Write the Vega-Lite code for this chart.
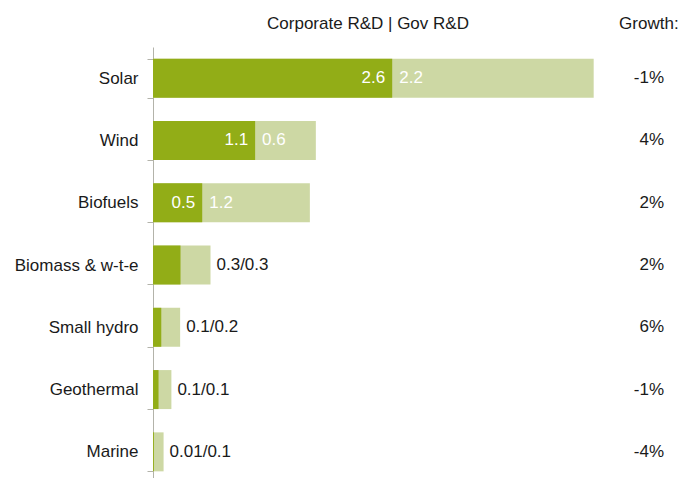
{
  "$schema": "https://vega.github.io/schema/vega-lite/v6.json",
  "autosize": {"type": "none"},
  "width": 529,
  "height": 436,
  "padding": {"left": 153, "top": 47, "right": 0, "bottom": 0},
  "background": "white",
  "config": {
    "font": "Liberation Sans",
    "view": {"stroke": null},
    "text": {"font": "Liberation Sans", "fontSize": 17}
  },
  "datasets": {
    "rd": [
      {"tech": "Solar", "corp": 2.6, "total": 4.79, "corpLabel": "2.6", "govLabel": "2.2", "combo": "", "inside": true, "growth": "-1%"},
      {"tech": "Wind", "corp": 1.11, "total": 1.77, "corpLabel": "1.1", "govLabel": "0.6", "combo": "", "inside": true, "growth": "4%"},
      {"tech": "Biofuels", "corp": 0.535, "total": 1.705, "corpLabel": "0.5", "govLabel": "1.2", "combo": "", "inside": true, "growth": "2%"},
      {"tech": "Biomass & w-t-e", "corp": 0.299, "total": 0.625, "corpLabel": "", "govLabel": "", "combo": "0.3/0.3", "inside": false, "growth": "2%"},
      {"tech": "Small hydro", "corp": 0.09, "total": 0.295, "corpLabel": "", "govLabel": "", "combo": "0.1/0.2", "inside": false, "growth": "6%"},
      {"tech": "Geothermal", "corp": 0.06, "total": 0.2, "corpLabel": "", "govLabel": "", "combo": "0.1/0.1", "inside": false, "growth": "-1%"},
      {"tech": "Marine", "corp": 0.01, "total": 0.115, "corpLabel": "", "govLabel": "", "combo": "0.01/0.1", "inside": false, "growth": "-4%"}
    ],
    "headers": [
      {"label": "Corporate R&D | Gov R&D", "pos": 2.337, "tech": "Solar"},
      {"label": "Growth:", "pos": 5.39, "tech": "Solar"}
    ]
  },
  "data": {"name": "rd"},
  "encoding": {
    "y": {
      "field": "tech",
      "type": "nominal",
      "sort": null,
      "scale": {"domain": ["Solar", "Wind", "Biofuels", "Biomass & w-t-e", "Small hydro", "Geothermal", "Marine"], "paddingInner": 0.374, "paddingOuter": 0.187},
      "axis": {
        "title": null,
        "tickBand": "extent",
        "tickSize": 6,
        "tickColor": "#b3b3aa",
        "domainColor": "#b3b3aa",
        "labelFontSize": 17,
        "labelColor": "#1a1a1a",
        "labelPadding": 9,
        "labelFont": "Liberation Sans",
        "grid": false
      }
    }
  },
  "layer": [
    {
      "mark": {"type": "bar", "color": "#cdd8a4"},
      "encoding": {
        "x": {"field": "total", "type": "quantitative", "scale": {"domain": [0, 5.75], "nice": false}, "axis": null}
      }
    },
    {
      "mark": {"type": "bar", "color": "#92ad17"},
      "encoding": {
        "x": {"field": "corp", "type": "quantitative"}
      }
    },
    {
      "mark": {"type": "text", "align": "right", "baseline": "middle", "dx": -7, "color": "white"},
      "encoding": {
        "x": {"field": "corp", "type": "quantitative"},
        "text": {"field": "corpLabel"}
      }
    },
    {
      "mark": {"type": "text", "align": "left", "baseline": "middle", "dx": 7, "color": "white"},
      "encoding": {
        "x": {"field": "corp", "type": "quantitative"},
        "text": {"field": "govLabel"}
      }
    },
    {
      "mark": {"type": "text", "align": "left", "baseline": "middle", "dx": 6, "color": "#1a1a1a"},
      "encoding": {
        "x": {"field": "total", "type": "quantitative"},
        "text": {"field": "combo"}
      }
    },
    {
      "mark": {"type": "text", "align": "right", "baseline": "middle", "color": "#1a1a1a"},
      "encoding": {
        "x": {"datum": 5.555, "type": "quantitative"},
        "text": {"field": "growth"}
      }
    },
    {
      "data": {"name": "headers"},
      "mark": {"type": "text", "align": "center", "baseline": "middle", "dy": -54, "color": "#1a1a1a"},
      "encoding": {
        "x": {"field": "pos", "type": "quantitative"},
        "text": {"field": "label"}
      }
    }
  ]
}
